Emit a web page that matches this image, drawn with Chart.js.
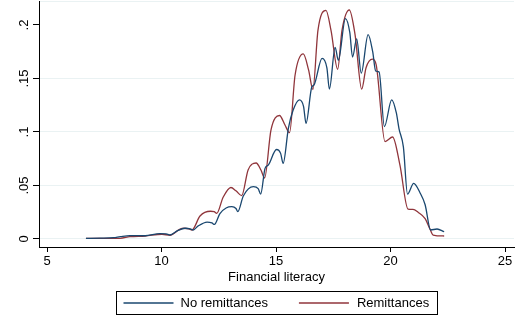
<!DOCTYPE html>
<html>
<head>
<meta charset="utf-8">
<script src="https://cdn.jsdelivr.net/npm/chart.js@4.4.1/dist/chart.umd.min.js"></script>
<style>
  html, body { margin: 0; padding: 0; background: #fff; }
  #wrap { width: 528px; height: 318px; }
</style>
</head>
<body>
<div id="wrap"><canvas id="chart-density"></canvas></div>
<script>
  /*
    ==================================================
    ===================== DATOS ======================
    ==================================================
  */

  const seriesNames = ['No remittances', 'Remittances'];

  const litNoRem = [6.70, 7.30, 7.90, 8.20, 8.62, 9.28, 9.93, 10.20, 10.37, 10.68, 11.03, 11.25, 11.38, 11.59, 11.99,
    12.20, 12.31, 12.55, 12.82, 13.07, 13.25, 13.33, 13.57, 14.01, 14.22, 14.33, 14.52, 14.66, 15.02, 15.20,
    15.31, 15.54, 15.74, 16.02, 16.20, 16.31, 16.56, 16.66, 17.01, 17.22, 17.33, 17.58, 17.72, 18.03, 18.22,
    18.34, 18.52, 18.72, 19.02, 19.22, 19.35, 19.50, 19.73, 20.05, 20.25, 20.37, 20.56, 20.74, 21.01, 21.29,
    21.51, 21.75, 22.03, 22.34];
  const densNoRem = [0.0005, 0.0008, 0.0012, 0.0022, 0.0032, 0.0030, 0.0050, 0.0048, 0.0037, 0.0075, 0.0100, 0.0095, 0.0084, 0.0120, 0.0158,
    0.0150, 0.0136, 0.0238, 0.0290, 0.0302, 0.0285, 0.0255, 0.0402, 0.0489, 0.0470, 0.0420, 0.0660, 0.0690, 0.0836, 0.0800,
    0.0706, 0.1037, 0.1200, 0.1300, 0.1240, 0.1080, 0.1420, 0.1440, 0.1687, 0.1600, 0.1400, 0.1790, 0.1670, 0.2060, 0.1930,
    0.1700, 0.1870, 0.1550, 0.1910, 0.1750, 0.1570, 0.1560, 0.1050, 0.1300, 0.1180, 0.1030, 0.0860, 0.0420, 0.0520, 0.0430,
    0.0320, 0.0084, 0.0093, 0.0068];

  const litRem = [6.70, 7.50, 8.19, 8.62, 9.28, 10.02, 10.37, 10.81, 10.98, 11.20, 11.33, 11.68, 12.14, 12.30, 12.41,
    12.69, 13.03, 13.25, 13.50, 13.78, 14.13, 14.34, 14.50, 14.78, 15.15, 15.39, 15.59, 15.83, 16.19, 16.42,
    16.61, 16.83, 17.18, 17.40, 17.69, 17.88, 18.20, 18.45, 18.74, 18.93, 19.21, 19.37, 19.76, 20.09, 20.41,
    20.76, 20.98, 21.20, 21.51, 21.72, 21.86, 22.34];
  const densRem = [0.0005, 0.0005, 0.0006, 0.0021, 0.0028, 0.0044, 0.0035, 0.0093, 0.0100, 0.0095, 0.0084, 0.0215, 0.0259, 0.0255, 0.0240,
    0.0390, 0.0481, 0.0450, 0.0405, 0.0645, 0.0710, 0.0645, 0.0570, 0.1020, 0.1154, 0.1065, 0.0993, 0.1530, 0.1730, 0.1580,
    0.1397, 0.1950, 0.2137, 0.1950, 0.1586, 0.1950, 0.2140, 0.1910, 0.1400, 0.1600, 0.1680, 0.1630, 0.0910, 0.0953, 0.0690,
    0.0280, 0.0276, 0.0250, 0.0190, 0.0093, 0.0037, 0.0028];

  const xTicks = [5, 10, 15, 20, 25];
  const yTicks = [0, 0.05, 0.1, 0.15, 0.2];
  const yTickLabels = ['0', '.05', '.1', '.15', '.2'];
  const xTitle = 'Financial literacy';

  /*
    ==================================================
    ==================== GRAFICO =====================
    ==================================================
  */

  const FONT = '"Liberation Sans", Arial, Helvetica, sans-serif';
  const Y_MAX = 0.2224;

  let toPoints = (xs, ys) => xs.map((x, i) => ({ x, y: ys[i] }));

  // etiquetas del eje y giradas (como en Stata) + borde de la leyenda
  const stataDecor = {
    id: 'stataDecor',
    afterDraw(chart) {
      let { ctx, scales: { y }, chartArea } = chart;

      ctx.save();
      ctx.fillStyle = '#000';
      ctx.font = '13px ' + FONT;
      ctx.textAlign = 'center';
      ctx.textBaseline = 'middle';
      yTicks.forEach((v, i) => {
        let py = y.getPixelForValue(v);
        ctx.save();
        ctx.translate(24, py);
        ctx.rotate(-Math.PI / 2);
        ctx.fillText(yTickLabels[i], 0, 0);
        ctx.restore();
      });

      // leyenda
      let sets = chart.data.datasets;
      let w1 = ctx.measureText(sets[0].label).width;
      let w2 = ctx.measureText(sets[1].label).width;
      let boxW = 7 + 50 + 7 + w1 + 31 + 50 + 8 + w2 + 8;
      let cx = (chartArea.left + chartArea.right) / 2;
      let bx = Math.round(cx - boxW / 2) + 0.5;
      let by = 291.5, bh = 23, my = 303;

      ctx.strokeStyle = '#000';
      ctx.lineWidth = 1;
      ctx.strokeRect(bx, by, Math.round(boxW), bh);

      let px = bx + 7;
      ctx.textAlign = 'left';
      [[sets[0], w1, 7, 31], [sets[1], w2, 8, 0]].forEach(([ds, w, gap, after]) => {
        ctx.strokeStyle = ds.borderColor;
        ctx.lineWidth = 1.3;
        ctx.beginPath();
        ctx.moveTo(px, my);
        ctx.lineTo(px + 50, my);
        ctx.stroke();
        px += 50 + gap;
        ctx.fillText(ds.label, px, my + 0.5);
        px += w + after;
      });
      ctx.restore();
    }
  };

  /** @type {CanvasRenderingContext2D} */
  let ctxDens = document.getElementById('chart-density').getContext('2d');

  let chartDens = new Chart(ctxDens, {
    type: 'line',
    data: {
      datasets: [{
        label: seriesNames[0],
        data: toPoints(litNoRem, densNoRem),
        borderColor: '#1a476f',
        borderWidth: 1.3,
        pointRadius: 0,
        fill: false,
        cubicInterpolationMode: 'monotone'
      }, {
        label: seriesNames[1],
        data: toPoints(litRem, densRem),
        borderColor: '#90353b',
        borderWidth: 1.3,
        pointRadius: 0,
        fill: false,
        cubicInterpolationMode: 'monotone'
      }]
    },
    options: {
      responsive: true,
      maintainAspectRatio: false,
      animation: false,
      events: [],
      layout: { padding: { left: 0, right: 14, top: 1, bottom: 33 } },
      plugins: { legend: { display: false }, tooltip: { enabled: false } },
      scales: {
        x: {
          type: 'linear',
          min: 4.65,
          max: 25.39,
          afterBuildTicks: s => { s.ticks = xTicks.map(value => ({ value })); },
          afterFit: s => { s.height = 38; },
          grid: { drawOnChartArea: false, tickLength: 5, tickColor: '#000', tickWidth: 1 },
          border: { color: '#000', width: 1 },
          ticks: { color: '#000', padding: 2, font: { family: FONT, size: 13 } },
          title: { display: true, text: xTitle, color: '#000', padding: { top: 0, bottom: 0 }, font: { family: FONT, size: 13 } }
        },
        y: {
          type: 'linear',
          min: -0.0075,
          max: Y_MAX,
          afterBuildTicks: s => { s.ticks = yTicks.concat([Y_MAX]).map(value => ({ value })); },
          afterFit: s => { s.width = 39; },
          grid: {
            color: c => c.tick && (c.tick.value === 0.2) ? 'rgba(0,0,0,0)' : '#eaf2f3',
            tickColor: c => c.tick && c.tick.value === Y_MAX ? 'rgba(0,0,0,0)' : '#000',
            tickLength: 6,
            tickWidth: 1
          },
          border: { color: '#000', width: 1 },
          ticks: { display: false }
        }
      }
    },
    plugins: [stataDecor]
  });
</script>
</body>
</html>
